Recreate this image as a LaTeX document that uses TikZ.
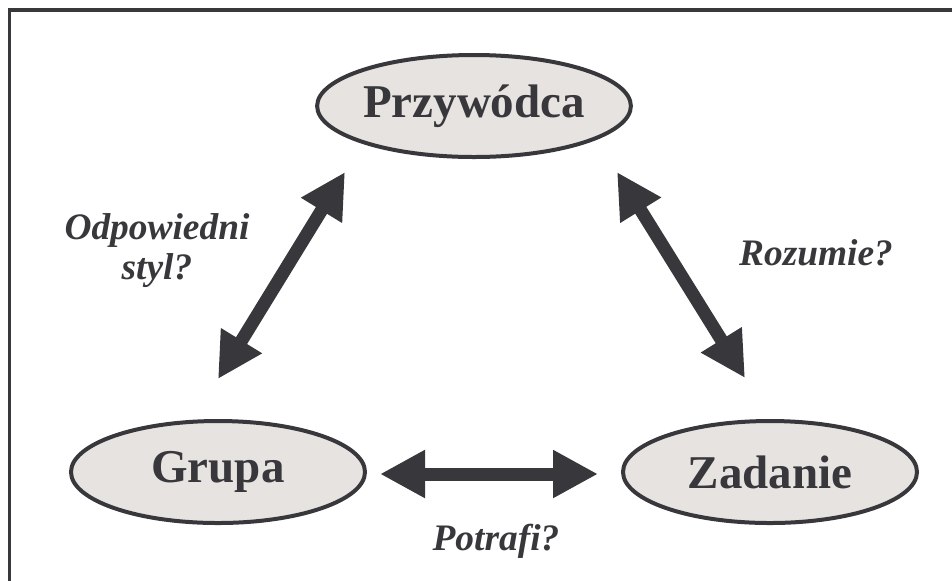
\documentclass[tikz,border=0pt]{standalone}
\usepackage{fontspec}
\setmainfont{Liberation Serif}
\usetikzlibrary{shapes.geometric,arrows.meta}

\tikzset{
  role/.style={ellipse, draw=inkgray, line width=2pt, fill=ovalfill,
    minimum width=147pt, minimum height=51pt, inner sep=0pt,
    text=inkgray, font=\fontsize{23.5}{26}\selectfont\bfseries},
  question/.style={text=inkgray, align=center,
    font=\fontsize{18.7}{20}\selectfont\bfseries\itshape},
  biarrow/.style={draw=inkgray, line width=6.5pt,
    {Triangle[width=22.5pt,length=22.5pt]}-{Triangle[width=22.5pt,length=22.5pt]}}
}

\begin{document}
\begin{tikzpicture}[x=0.5pt,y=-0.5pt]
        % Colours
        \definecolor{inkgray}{RGB}{56,55,60}
        \definecolor{ovalfill}{RGB}{230,227,225}

        \useasboundingbox (0,0) rectangle (952,580);
        \clip (0,0) rectangle (952,580);

        % Frame (only top and left edges are visible)
        \draw[inkgray, line width=1.8pt] (9.5,700) -- (9.5,10) -- (1100,10);

        % The three corners
        \node[role] (przywodca) at (474,106) {Przywódca};
        \node[role] (grupa) at (218,472) {Grupa};
        \node[role] (zadanie) at (770,472) {Zadanie};

        % Two-way links
        \draw[biarrow] ([shift={(0,-40)}]grupa.north) -- ([shift={(-129,66)}]przywodca.center);
        \draw[biarrow] ([shift={(143,66)}]przywodca.center) -- ([shift={(-25,-94)}]zadanie.center);
        \draw[biarrow] ([shift={(13,2)}]grupa.east) -- ([shift={(-23,2)}]zadanie.west);

        % Questions
        \node[question] (styl) at (157,251) {Odpowiedni\\styl?};
        \node[question, anchor=base] (rozumie) at (816,265) {Rozumie?};
        \node[question, anchor=base] (potrafi) at (496,550) {Potrafi?};
    \end{tikzpicture}
\end{document}
